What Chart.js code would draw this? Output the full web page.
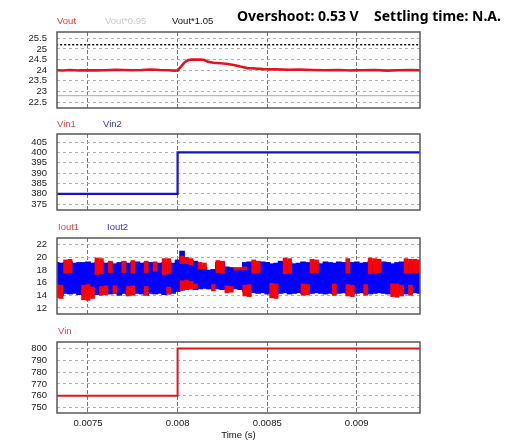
<!DOCTYPE html>
<html><head><meta charset="utf-8">
<script src="https://cdn.jsdelivr.net/npm/chart.js@4/dist/chart.umd.min.js"></script>
<style>
html,body{margin:0;padding:0;background:#fff;width:510px;height:441px;overflow:hidden;position:relative;font-family:"Liberation Sans",Arial,sans-serif}
.pane{position:absolute;left:0}
.lbl{position:absolute;font-size:9.5px;line-height:12px;white-space:nowrap;z-index:5}
.ttl{position:absolute;font-family:"Noto Sans",sans-serif;font-weight:bold;font-size:14px;line-height:16px;white-space:nowrap;color:#000;z-index:5}
</style></head><body>
<div class="pane" style="top:12px"><canvas id="c1" width="430" height="116"></canvas></div>
<div class="pane" style="top:114px"><canvas id="c2" width="430" height="116"></canvas></div>
<div class="pane" style="top:218px"><canvas id="c3" width="430" height="116"></canvas></div>
<div class="pane" style="top:322px"><canvas id="c4" width="430" height="119"></canvas></div>

<div class="lbl" style="left:57px;top:15px;color:#e03c3c">Vout</div>
<div class="lbl" style="left:105px;top:15px;color:#c8c8c8">Vout*0.95</div>
<div class="lbl" style="left:172px;top:15px;color:#111">Vout*1.05</div>
<div class="ttl" style="left:237px;top:8px">Overshoot: 0.53 V</div>
<div class="ttl" style="left:374px;top:8px">Settling time: N.A.</div>
<div class="lbl" style="left:57px;top:118px;color:#e04848">Vin1</div>
<div class="lbl" style="left:103px;top:118px;color:#3838b8">Vin2</div>
<div class="lbl" style="left:58px;top:221px;color:#e04848">Iout1</div>
<div class="lbl" style="left:107px;top:221px;color:#3838c0">Iout2</div>
<div class="lbl" style="left:58px;top:325px;color:#e04848">Vin</div>

<script>
// ---- tick labels ----
const timeTicks = [0.0075, 0.008, 0.0085, 0.009];
const voutTicks = [22.5, 23, 23.5, 24, 24.5, 25, 25.5];
const vinPairTicks = [375, 380, 385, 390, 395, 400, 405];
const ioutTicks = [12, 14, 16, 18, 20, 22];
const vinTicks = [750, 760, 770, 780, 790, 800];

// ---- Vout panel ----
const voutTime = [0.00732,0.00736,0.0074,0.00745,0.0075,0.00755,0.0076,0.00765,0.0077,0.00775,0.0078,0.00785,0.0079,0.00795,0.00798,0.008,0.00802,0.00804,0.00806,0.00808,0.0081,0.00813,0.00815,0.00817,0.0082,0.00824,0.00828,0.00832,0.00835,0.00839,0.00843,0.00848,0.00855,0.00862,0.00868,0.00875,0.00882,0.0089,0.00897,0.00903,0.0091,0.00917,0.00923,0.0093,0.00936];
const vout = [24.00,23.99,24.01,23.99,24.00,23.99,24.00,24.02,24.01,24.00,24.01,24.03,24.01,24.00,23.98,23.99,24.18,24.38,24.48,24.50,24.50,24.50,24.48,24.40,24.35,24.33,24.29,24.23,24.17,24.10,24.08,24.05,24.04,24.02,24.03,24.01,24.00,24.01,23.99,24.00,24.01,23.98,24.00,24.01,24.00];
const refTime = [0.0073, 0.0094];
const voutHigh = [25.2, 25.2];
const voutLow = [22.8, 22.8];

// ---- input voltage steps ----
const stepTime = [0.0073, 0.008, 0.008, 0.0094];
const vin1 = [380, 380, 400, 400];
const vin2 = [380, 380, 400, 400];
const vin = [760, 760, 800, 800];

// ---- output currents (ripple envelopes) ----
const iTime = [0.007325,0.00735,0.007375,0.0074,0.007425,0.00745,0.007475,0.0075,0.007525,0.00755,0.007575,0.0076,0.007625,0.00765,0.007675,0.0077,0.007725,0.00775,0.007775,0.0078,0.007825,0.00785,0.007875,0.0079,0.007925,0.00795,0.007975,0.008,0.008025,0.00805,0.008075,0.0081,0.008125,0.00815,0.008175,0.0082,0.008225,0.00825,0.008275,0.0083,0.008325,0.00835,0.008375,0.0084,0.008425,0.00845,0.008475,0.0085,0.008525,0.00855,0.008575,0.0086,0.008625,0.00865,0.008675,0.0087,0.008725,0.00875,0.008775,0.0088,0.008825,0.00885,0.008875,0.0089,0.008925,0.00895,0.008975,0.009,0.009025,0.00905,0.009075,0.0091,0.009125,0.00915,0.009175,0.0092,0.009225,0.00925,0.009275,0.0093,0.009325,0.00935];
const iout2High = [19.2,19.1,19.2,19.3,19.1,19.2,19.2,19.3,19.1,19.2,19.3,19.1,19.2,19.0,19.2,19.3,19.1,19.2,19.3,19.1,19.2,19.2,19.0,19.1,19.2,19.3,19.1,
  19.6,21.0,19.8,19.5,19.4,18.6,18.4,18.0,18.1,19.2,19.3,18.5,18.4,18.2,18.3,19.2,19.3,19.2,19.1,19.3,
  19.2,19.0,19.1,19.4,19.3,19.2,19.0,19.1,19.3,19.2,19.1,19.2,19.0,19.3,19.2,19.1,19.3,19.2,19.0,19.2,19.3,19.1,19.2,19.3,19.2,19.1,19.3,19.2,19.0,19.2,19.3,19.1,19.2,19.3,19.2];
const iout2Low = [14.2,14.0,14.3,14.2,14.3,14.1,14.2,14.3,14.2,14.1,14.3,14.4,14.2,14.3,14.0,14.3,14.1,14.2,14.3,14.2,14.0,14.3,14.2,14.3,14.1,14.2,14.3,
  14.6,14.8,15.0,15.0,14.9,15.0,15.1,15.0,15.1,15.0,14.9,15.0,15.1,15.0,14.9,14.6,14.5,14.4,14.3,14.4,
  14.2,14.3,14.2,14.3,14.4,14.2,14.3,14.4,14.3,14.2,14.3,14.4,14.3,14.2,14.3,14.2,14.3,14.4,14.3,14.2,14.3,14.4,14.3,14.2,14.3,14.4,14.3,14.2,14.3,14.4,14.3,14.2,14.3,14.4,14.3];
const iout1Upper = [null,null,[17.5,19.6],[17.6,19.7],null,null,null,null,null,[17.3,19.9],[17.4,19.8],null,[17.6,19.4],null,null,[17.6,19.4],null,[17.5,19.5],null,null,[17.6,19.4],null,[17.8,19.3],null,[17.3,19.8],[17.4,19.8],null,
  null,[19.0,20.2],[19.0,20.0],[18.8,19.8],null,[18.2,19.2],[18.2,19.1],null,null,[17.6,19.5],[17.5,19.4],null,null,[18.0,18.4],[18.0,18.4],[18.1,18.5],null,[17.5,19.6],[17.6,19.4],null,
  null,null,null,null,[17.4,19.9],[17.5,19.8],null,null,null,null,[17.5,19.7],[17.6,19.6],null,null,null,null,null,null,[17.5,19.8],null,null,null,null,[17.4,19.9],[17.5,19.8],[17.6,19.7],null,null,null,null,null,[17.5,19.8],[17.5,19.7],[17.6,19.7],[17.6,19.6]];
const iout1Lower = [[13.6,15.7],[13.5,15.6],null,null,null,null,[13.3,15.6],[13.2,15.7],[13.5,15.3],null,[14.0,15.4],[14.1,15.5],null,[14.3,15.5],null,null,[13.9,15.4],[14.0,15.5],null,null,[14.1,15.4],null,null,null,null,[14.2,15.3],null,
  null,[14.8,16.3],[14.9,16.4],[15.0,16.2],[15.1,15.8],null,null,null,[14.7,15.7],null,null,[14.4,15.5],[14.5,15.4],null,null,[13.9,15.6],[13.8,15.7],null,null,null,null,
  [13.6,15.9],[13.5,15.8],null,null,null,null,null,[14.0,15.8],[14.1,15.7],null,null,null,null,null,[14.0,15.8],null,null,[13.9,15.7],[13.8,15.6],null,null,[14.0,15.7],null,null,null,null,null,[13.8,15.8],[13.7,15.8],[13.9,15.6],null,[14.0,15.6],null,null];

// ---- helpers ----
const FONT = {family: '"Liberation Sans", Arial, sans-serif', size: 9.5};
const pts = (xs, ys) => xs.map((x, k) => ({x, y: ys[k]}));
const ranges = (xs, rs) => xs.map((x, k) => ({x, y: rs[k]})).filter(p => p.y !== null);

const framePlugin = {id: 'frame', afterDraw(c) {
  const a = c.chartArea, g = c.ctx; g.save();
  g.strokeStyle = '#5a5a5a'; g.lineWidth = 1.5;
  g.strokeRect(a.left, a.top, a.right - a.left, a.bottom - a.top);
  g.restore();
}};

function xScale(show) {
  return {type: 'linear', min: 0.007327, max: 0.009353, bounds: 'data', offset: false,
    afterBuildTicks: s => { s.ticks = timeTicks.map(v => ({value: v})); },
    afterFit: s => { s.height = show ? 28 : 0; },
    grid: {color: '#777', lineWidth: 1, drawTicks: false, offset: false},
    border: {display: false, dash: [4, 2]},
    ticks: {display: show, padding: 5, color: '#222', font: FONT, maxRotation: 0, autoSkip: false,
      callback: v => String(+(+v).toFixed(5))},
    title: {display: show, text: 'Time (s)', color: '#111', font: FONT, padding: 0}
  };
}
function yScale(min, max, vals) {
  return {type: 'linear', min, max, bounds: 'data',
    afterBuildTicks: s => { s.ticks = vals.map(v => ({value: v})); },
    afterFit: s => { s.width = 57; },
    grid: {color: '#b0b0b0', lineWidth: 1, drawTicks: false},
    border: {display: false, dash: [3, 3]},
    ticks: {padding: 10, color: '#222', font: FONT, autoSkip: false,
      callback: v => String(+(+v).toFixed(3))}
  };
}
function opts(min, max, vals, last) {
  return {responsive: false, animation: false, devicePixelRatio: 1, events: [],
    layout: {padding: {top: 20, bottom: last ? 0 : 20, left: 0, right: 10}},
    plugins: {legend: {display: false}, tooltip: {enabled: false}},
    scales: {x: xScale(last), y: yScale(min, max, vals)}};
}
const line = (label, data, color, w, dash) => ({type: 'line', label, data, borderColor: color,
  borderWidth: w, borderDash: dash || [], pointRadius: 0, tension: 0, fill: false});

new Chart(document.getElementById('c1'), {type: 'line',
  data: {datasets: [
    line('Vout', pts(voutTime, vout), '#e3141c', 2.6),
    line('Vout*0.95', pts(refTime, voutLow), '#bdbdbd', 1.2),
    line('Vout*1.05', pts(refTime, voutHigh), '#000', 1.4, [2, 2])
  ]},
  options: opts(22.22, 25.8, voutTicks, false), plugins: [framePlugin]});

new Chart(document.getElementById('c2'), {type: 'line',
  data: {datasets: [
    line('Vin2', pts(stepTime, vin2), '#1414d8', 2.2),
    line('Vin1', pts(stepTime, vin1), '#e3141c', 1)
  ]},
  options: opts(372.2, 408.9, vinPairTicks, false), plugins: [framePlugin]});

const barDs = (label, data, color, w) => ({type: 'bar', label, data, backgroundColor: color,
  borderWidth: 0, grouped: false, barThickness: w});
new Chart(document.getElementById('c3'), {type: 'bar',
  data: {datasets: [
    barDs('Iout1', ranges(iTime, iout1Upper), '#ff0000', 4),
    barDs('Iout1', ranges(iTime, iout1Lower), '#ff0000', 4),
    barDs('Iout2', pts(iTime, iout2Low.map((lo, k) => [lo, iout2High[k]])), '#0000ff', 5)
  ]},
  options: opts(11.05, 23.06, ioutTicks, false), plugins: [framePlugin]});

new Chart(document.getElementById('c4'), {type: 'line',
  data: {datasets: [line('Vin', pts(stepTime, vin), '#e3141c', 2)]},
  options: opts(745.3, 805.6, vinTicks, true), plugins: [framePlugin]});
</script>
</body></html>
